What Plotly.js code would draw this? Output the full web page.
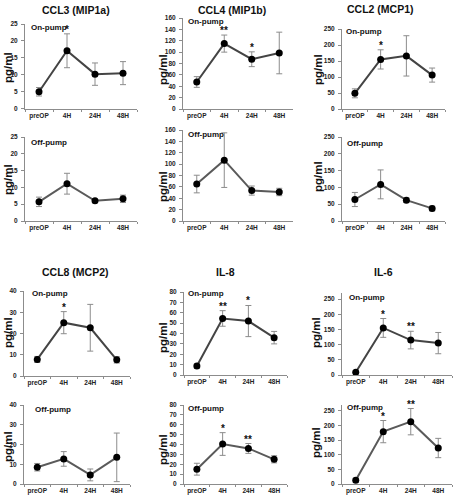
<!DOCTYPE html>
<html><head><meta charset="utf-8">
<script src="https://cdn.plot.ly/plotly-3.0.1.min.js"></script>
<style>html,body{margin:0;padding:0;background:#fff}</style>
</head><body>
<div id="chart" style="width:453px;height:496px"></div>
<script>
// ---- data ----
const timepoints = ['preOP', '4H', '24H', '48H'];

const ccl3On = [5.0, 17.1, 10.2, 10.5];
const ccl3OnErr = [1.25, 5.0, 3.3, 3.4];
const ccl3OnStars = ['', '*', '', ''];
const ccl3Off = [5.7, 11.1, 6.0, 6.6];
const ccl3OffErr = [1.4, 3.1, 0.5, 1.1];
const ccl3OffStars = ['', '', '', ''];

const ccl4On = [47.5, 115, 87.5, 98.5];
const ccl4OnErr = [9.4, 15, 13, 36.6];
const ccl4OnStars = ['', '**', '*', ''];
const ccl4Off = [65, 107, 53.5, 51];
const ccl4OffErr = [15.5, 48, 8, 6.5];
const ccl4OffStars = ['', '', '', ''];

const ccl2On = [49, 155, 166, 106];
const ccl2OnErr = [14, 30, 63, 22];
const ccl2OnStars = ['', '*', '', ''];
const ccl2Off = [64, 109, 62, 37.5];
const ccl2OffErr = [21, 43, 7, 7];
const ccl2OffStars = ['', '', '', ''];

const ccl8On = [7.8, 25.1, 22.7, 7.6];
const ccl8OnErr = [1.4, 5.2, 11, 1.5];
const ccl8OnStars = ['', '*', '', ''];
const ccl8Off = [8.5, 12.7, 4.6, 13.5];
const ccl8OffErr = [1.9, 3.7, 3.0, 12.3];
const ccl8OffStars = ['', '', '', ''];

const il8On = [8.7, 54.5, 52, 36];
const il8OnErr = [2, 7.5, 15, 6];
const il8OnStars = ['', '**', '*', ''];
const il8Off = [15, 40.5, 36, 25];
const il8OffErr = [6, 11.5, 5, 3.6];
const il8OffStars = ['', '*', '**', ''];

const il6On = [9, 155, 115, 105];
const il6OnErr = [3, 31, 29, 35];
const il6OnStars = ['', '*', '**', ''];
const il6Off = [13, 179, 213, 123];
const il6OffErr = [7, 38, 45, 33];
const il6OffStars = ['', '*', '**', ''];

const cytokineTitles = ['CCL3 (MIP1a)', 'CCL4 (MIP1b)', 'CCL2 (MCP1)', 'CCL8 (MCP2)', 'IL-8', 'IL-6'];
const groupLabels = ['On-pump', 'Off-pump'];
const yUnit = 'pg/ml';

// ---- layout geometry (pixels) ----
const W = 453, H = 496;
const px = x => x / W;
const py = y => 1 - y / H;

const panels = [
  {v: ccl3On, e: ccl3OnErr, s: ccl3OnStars, g: 0, x: [25, 137], y: [24, 108.7], max: 25, dt: 5, lab: [29, 27], unit: [8, 68]},
  {v: ccl4On, e: ccl4OnErr, s: ccl4OnStars, g: 0, x: [183, 293], y: [18, 109], max: 160, dt: 20, lab: [186, 21], unit: [163, 70]},
  {v: ccl2On, e: ccl2OnErr, s: ccl2OnStars, g: 0, x: [342, 445], y: [29, 109], max: 250, dt: 50, lab: [344, 31], unit: [318, 70]},
  {v: ccl3Off, e: ccl3OffErr, s: ccl3OffStars, g: 1, x: [25, 137], y: [137, 221], max: 25, dt: 5, lab: [29, 142], unit: [8, 180]},
  {v: ccl4Off, e: ccl4OffErr, s: ccl4OffStars, g: 1, x: [183, 293], y: [130, 221], max: 160, dt: 20, lab: [186, 134], unit: [163, 187]},
  {v: ccl2Off, e: ccl2OffErr, s: ccl2OffStars, g: 1, x: [342, 445], y: [137, 221], max: 250, dt: 50, lab: [345, 143], unit: [318, 177]},
  {v: ccl8On, e: ccl8OnErr, s: ccl8OnStars, g: 0, x: [24, 130], y: [291, 376], max: 40, dt: 10, lab: [30, 293], unit: [8, 333]},
  {v: il8On, e: il8OnErr, s: il8OnStars, g: 0, x: [184, 287], y: [292, 375], max: 80, dt: 10, lab: [186, 293], unit: [163, 338]},
  {v: il6On, e: il6OnErr, s: il6OnStars, g: 0, x: [342, 452], y: [293, 375], max: 270, dt: 50, lab: [347, 297], unit: [316, 333]},
  {v: ccl8Off, e: ccl8OffErr, s: ccl8OffStars, g: 1, x: [24, 130], y: [405, 484], max: 40, dt: 10, lab: [33, 409], unit: [8, 447]},
  {v: il8Off, e: il8OffErr, s: il8OffStars, g: 1, x: [184, 287], y: [405, 484], max: 80, dt: 10, lab: [186, 408], unit: [163, 450]},
  {v: il6Off, e: il6OffErr, s: il6OffStars, g: 1, x: [342, 452], y: [405, 484], max: 270, dt: 50, lab: [345, 407], unit: [316, 443]}
];
const titlePos = [[76, 10], [232, 10], [380, 9], [75, 272], [225, 272], [383, 272]];

const FONT = 'Liberation Sans, Arial, sans-serif';
const traces = [];
const layout = {
  width: W, height: H,
  margin: {l: 0, r: 0, t: 0, b: 0},
  paper_bgcolor: '#fff', plot_bgcolor: 'rgba(0,0,0,0)',
  showlegend: false,
  font: {family: FONT, color: '#222'},
  annotations: []
};

panels.forEach((p, i) => {
  const n = i + 1;
  const xa = 'x' + (n === 1 ? '' : n), ya = 'y' + (n === 1 ? '' : n);
  const xk = 'xaxis' + (n === 1 ? '' : n), yk = 'yaxis' + (n === 1 ? '' : n);
  traces.push({
    type: 'scatter', mode: 'lines+markers',
    x: timepoints, y: p.v,
    xaxis: xa, yaxis: ya,
    line: {color: p.g === 0 ? '#444' : '#5a5a5a', width: 2},
    marker: {color: '#000', size: 7},
    error_y: {type: 'data', array: p.e, visible: true, color: '#8c8c8c', thickness: 1, width: 3},
    hoverinfo: 'skip', cliponaxis: false
  });
  layout[xk] = {
    domain: [px(p.x[0]), px(p.x[1])], anchor: ya,
    type: 'category', range: [-0.5, 3.5],
    showline: true, linecolor: '#8c8c8c', linewidth: 1,
    ticks: 'outside', tickson: 'boundaries', ticklen: 2, tickcolor: '#8c8c8c',
    tickangle: 0, automargin: false,
    tickfont: {size: 6.5, weight: 'bold', family: FONT, color: '#222'},
    showgrid: false, zeroline: false, fixedrange: true
  };
  layout[yk] = {
    domain: [py(p.y[1]), py(p.y[0])], anchor: xa,
    range: [0, p.max], dtick: p.dt, tick0: 0,
    showline: true, linecolor: '#8c8c8c', linewidth: 1,
    ticks: 'outside', ticklen: 3, tickcolor: '#8c8c8c', ticklabelstandoff: 2,
    automargin: false,
    tickfont: {size: 6.5, weight: 'bold', family: FONT, color: '#222'},
    showgrid: false, zeroline: false, fixedrange: true
  };
  // group label
  layout.annotations.push({
    xref: 'paper', yref: 'paper', x: px(p.lab[0]), y: py(p.lab[1]),
    xanchor: 'left', yanchor: 'middle', showarrow: false,
    text: groupLabels[p.g], font: {size: 8, weight: 'bold', family: FONT, color: '#111'}
  });
  // y unit title
  layout.annotations.push({
    xref: 'paper', yref: 'paper', x: px(p.unit[0]), y: py(p.unit[1]),
    xanchor: 'center', yanchor: 'middle', showarrow: false, textangle: -90,
    text: yUnit, font: {size: 11.5, weight: 'bold', family: FONT, color: '#111'}
  });
  // significance stars
  p.s.forEach((st, k) => {
    if (!st) return;
    layout.annotations.push({
      xref: xa, yref: ya, x: timepoints[k], y: p.v[k] + p.e[k],
      xanchor: 'center', yanchor: 'bottom', yshift: -3, showarrow: false,
      text: st, font: {size: 10, weight: 'bold', family: FONT, color: '#111'}
    });
  });
});

cytokineTitles.forEach((t, i) => {
  layout.annotations.push({
    xref: 'paper', yref: 'paper', x: px(titlePos[i][0]), y: py(titlePos[i][1]),
    xanchor: 'center', yanchor: 'middle', showarrow: false,
    text: t, font: {size: 10.5, weight: 'bold', family: FONT, color: '#111'}
  });
});

Plotly.newPlot('chart', traces, layout, {staticPlot: true, displayModeBar: false});
</script>
</body></html>
